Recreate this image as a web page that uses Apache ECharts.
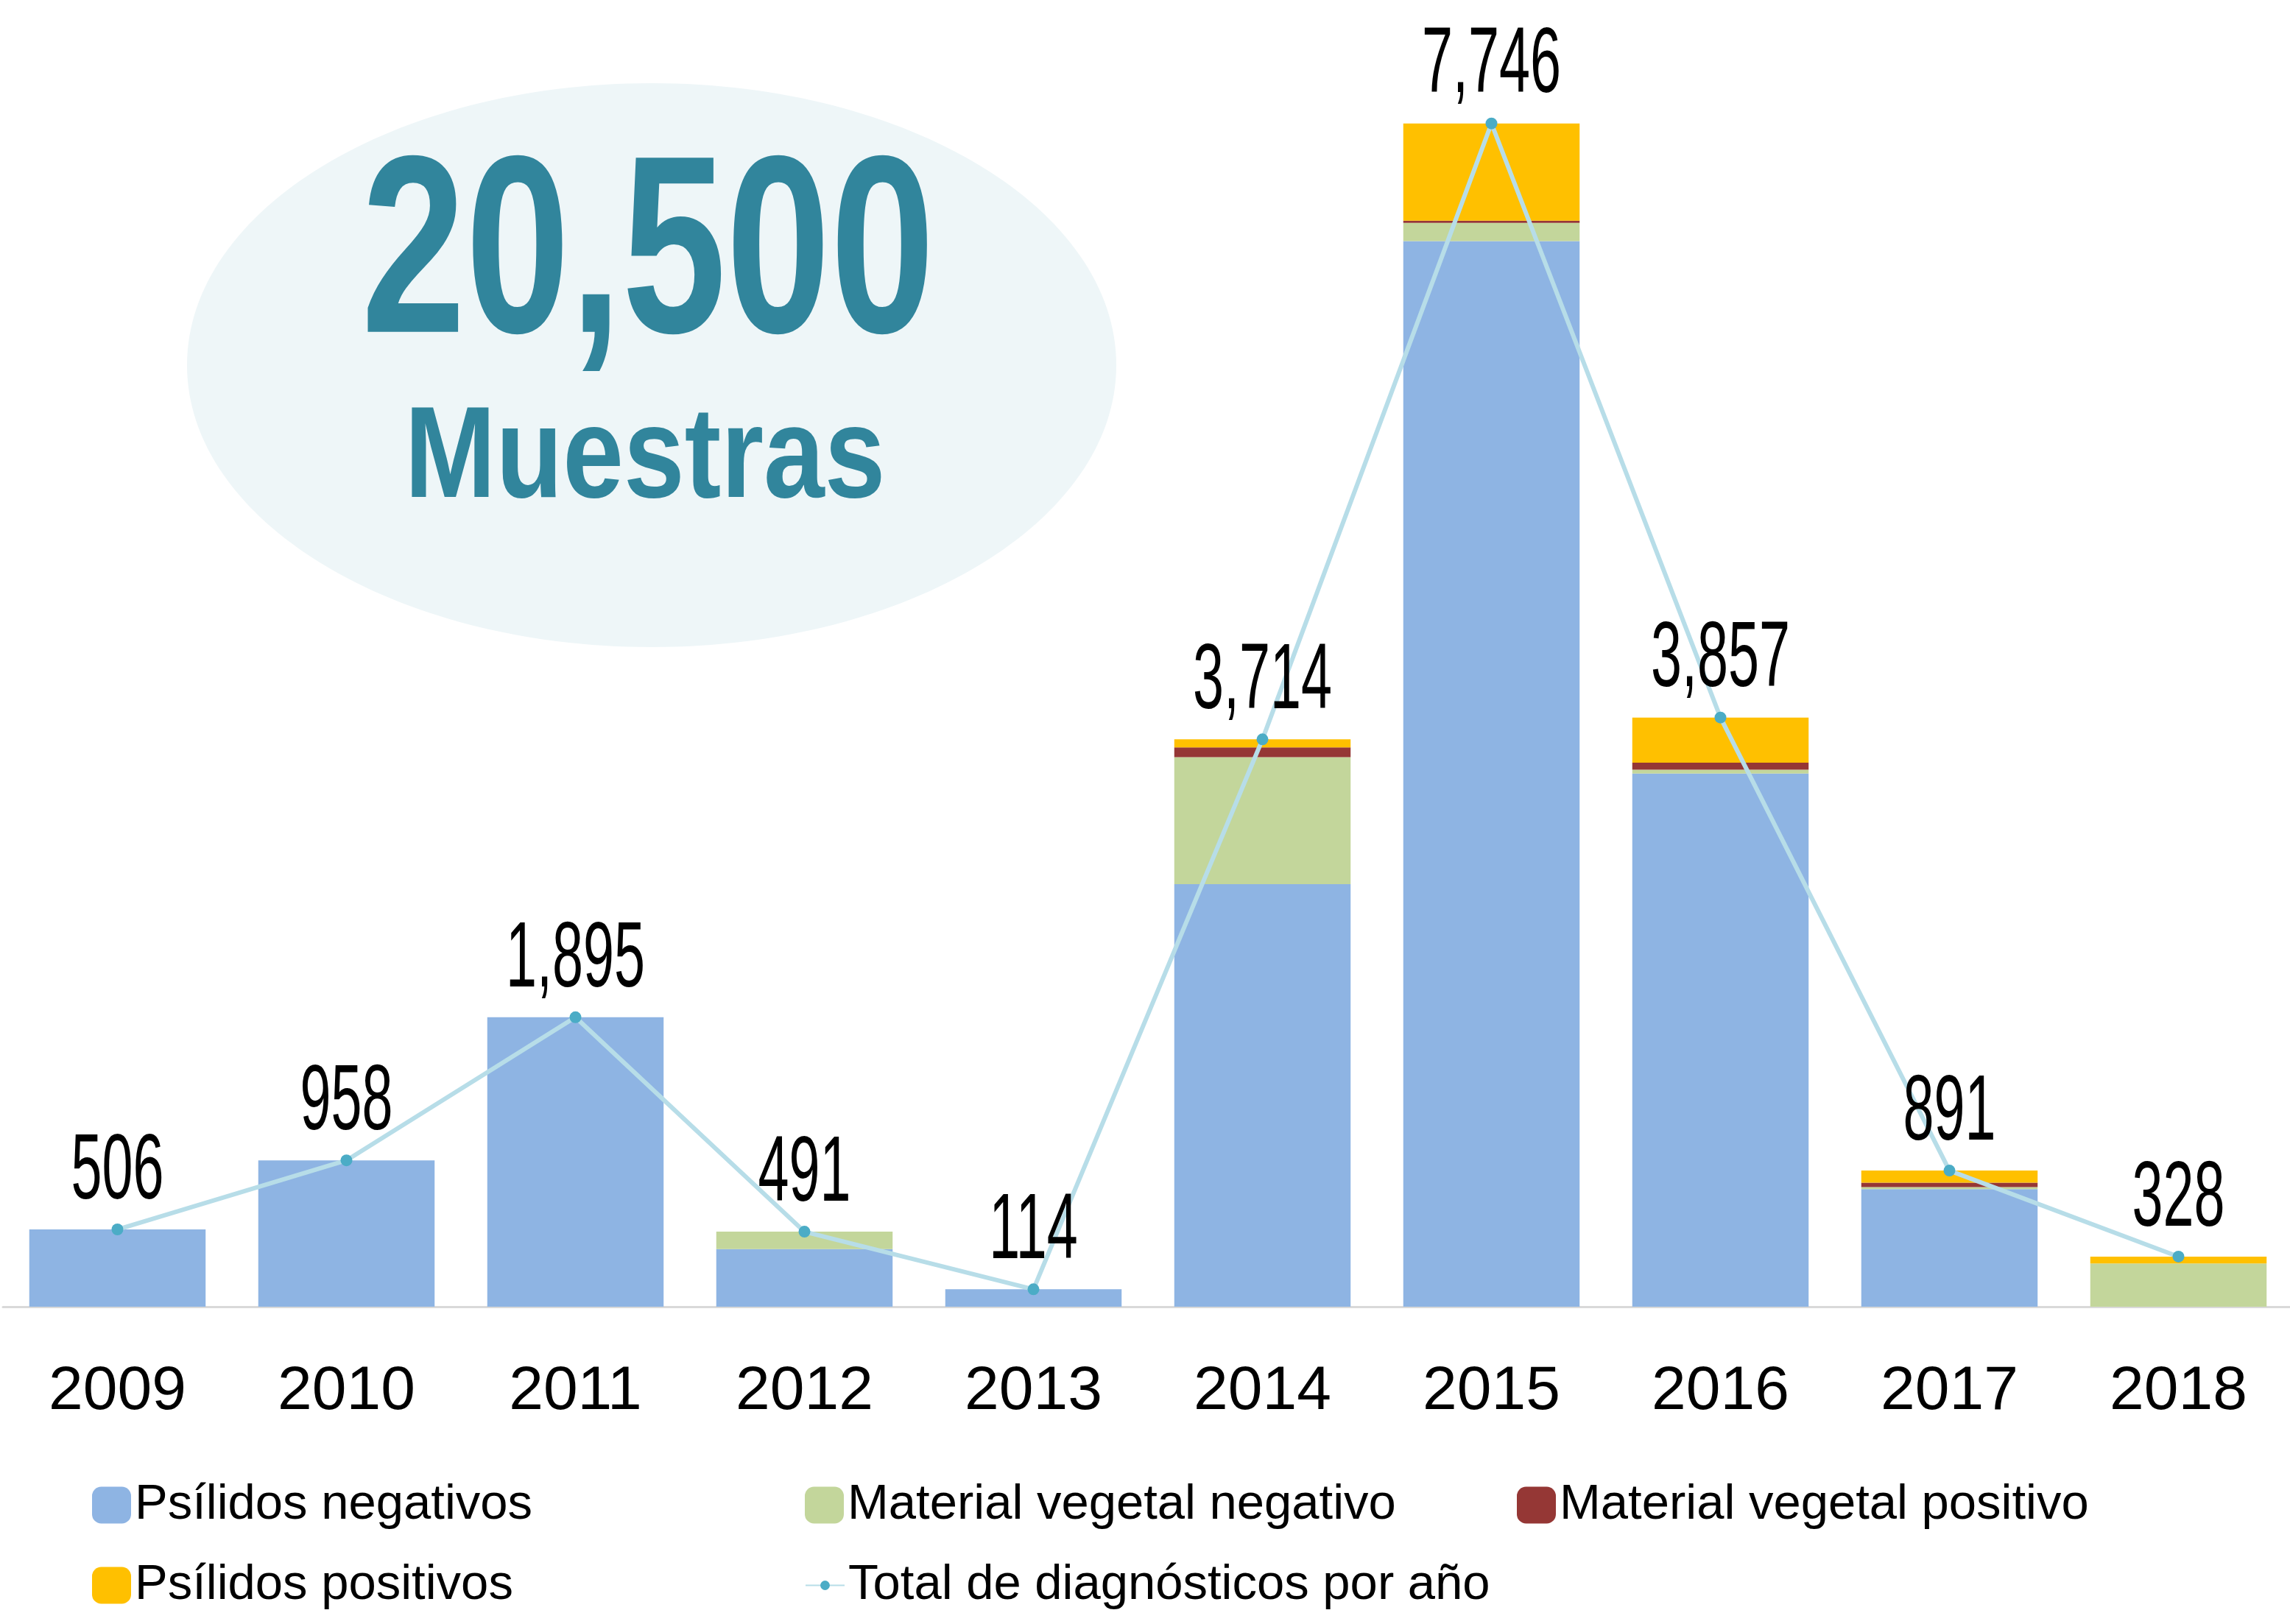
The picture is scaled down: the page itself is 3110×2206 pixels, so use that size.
<!DOCTYPE html>
<html>
<head>
<meta charset="utf-8">
<script src="https://cdn.jsdelivr.net/npm/echarts@6/dist/echarts.min.js"></script>
<style>
  html, body { margin: 0; padding: 0; background: #fff; }
  #main { width: 3110px; height: 2206px; }
</style>
</head>
<body>
<div id="main"></div>
<script>
var years = ['2009', '2010', '2011', '2012', '2013', '2014', '2015', '2016', '2017', '2018']
var psilidosNeg = [506, 958, 1895, 377, 114, 2766, 6976, 3490, 770, 0]
var vegetalNeg = [0, 0, 0, 114, 0, 831, 119, 26, 13, 283]
var vegetalPos = [0, 0, 0, 0, 0, 64, 15, 46, 29, 0]
var psilidosPos = [0, 0, 0, 0, 0, 53, 636, 295, 79, 45]
var totals = [506, 958, 1895, 491, 114, 3714, 7746, 3857, 891, 328]
var grandTotal = '20,500'

var fontMain = "'Liberation Sans', Arimo, Arial, sans-serif"
var myChart = echarts.init(document.getElementById('main'))

// una leyenda por elemento para colocarlas en columnas
function legendItem(name, left, top, h) {
    return {
        data: [name],
        left: left,
        top: top,
        padding: 0,
        itemWidth: 53,
        itemHeight: h,
        selectedMode: false,
        textStyle: { fontFamily: fontMain, fontSize: 67, color: '#000' }
    }
}

function barSeries(name, data, color) {
    return {
        name: name,
        type: 'bar',
        stack: 'total',
        barWidth: '77%',
        data: data,
        itemStyle: { color: color }
    }
}

// etiquetas de totales, estrechadas para imitar la fuente condensada
function renderTotalLabel(params, api) {
    var pt = api.coord([api.value(0), api.value(1)])
    return {
        type: 'text',
        x: pt[0],
        y: pt[1] - 77,
        scaleX: 0.6,
        style: {
            text: api.value(1).toLocaleString('en-US'),
            x: 0, y: 0,
            fontFamily: fontMain, fontSize: 126,
            fill: '#000', align: 'center', verticalAlign: 'middle'
        }
    }
}

var option = {
    animation: false,
    backgroundColor: '#ffffff',
    grid: { left: 4, right: -4, top: 115, bottom: 431, containLabel: false, outerBoundsMode: 'none' },
    legend: [
        legendItem('Psílidos negativos', 125, 2011, 50),
        legendItem('Material vegetal negativo', 1093, 2011, 50),
        legendItem('Material vegetal positivo', 2060, 2011, 50),
        legendItem('Psílidos positivos', 125, 2120, 50),
        legendItem('Total de diagnósticos por año', 1093, 2120, 16)
    ],
    xAxis: {
        type: 'category',
        data: years,
        axisLine: { lineStyle: { color: '#d9d9d9', width: 3 } },
        axisTick: { show: false },
        axisLabel: { fontFamily: fontMain, fontSize: 84, color: '#000', margin: 74 }
    },
    yAxis: {
        type: 'value',
        min: 0,
        max: 8000,
        show: false,
        splitLine: { show: false }
    },
    graphic: [
        {
            type: 'ellipse',
            z: -10,
            shape: { cx: 885, cy: 496, rx: 631, ry: 383 },
            style: { fill: '#eef6f8' }
        },
        {
            type: 'text',
            x: 880, y: 356,
            scaleX: 0.74,
            style: {
                text: grandTotal, x: 0, y: 0,
                fontFamily: fontMain, fontWeight: 'bold', fontSize: 344,
                fill: '#31859c', align: 'center', verticalAlign: 'middle'
            }
        },
        {
            type: 'text',
            x: 876, y: 626,
            scaleX: 0.84,
            style: {
                text: 'Muestras', x: 0, y: 0,
                fontFamily: fontMain, fontWeight: 'bold', fontSize: 177,
                fill: '#31859c', align: 'center', verticalAlign: 'middle'
            }
        }
    ],
    series: [
        barSeries('Psílidos negativos', psilidosNeg, '#8eb4e3'),
        barSeries('Material vegetal negativo', vegetalNeg, '#c3d69b'),
        barSeries('Material vegetal positivo', vegetalPos, '#953735'),
        barSeries('Psílidos positivos', psilidosPos, '#ffc000'),
        {
            name: 'Total de diagnósticos por año',
            type: 'line',
            z: 5,
            data: totals,
            symbol: 'circle',
            symbolSize: 16,
            lineStyle: { color: '#b7dde8', width: 6 },
            itemStyle: { color: '#4bacc6' }
        },
        {
            name: 'etiquetas',
            type: 'custom',
            z: 6,
            renderItem: renderTotalLabel,
            data: totals.map(function (v, i) { return [i, v] })
        }
    ]
}

myChart.setOption(option)
</script>
</body>
</html>
